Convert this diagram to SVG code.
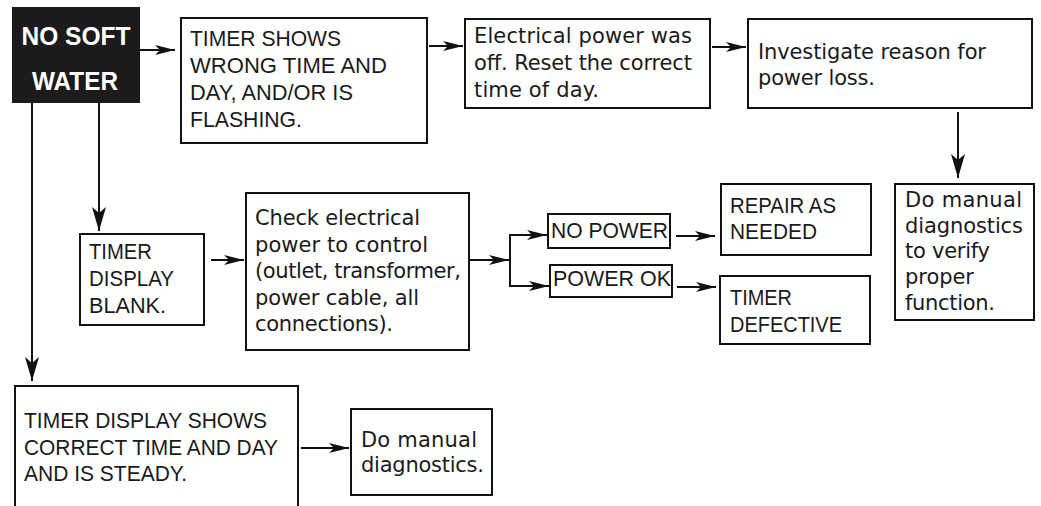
<svg xmlns="http://www.w3.org/2000/svg" width="1041" height="506" viewBox="0 0 1041 506">
<defs>
<marker id="ah" markerUnits="userSpaceOnUse" markerWidth="21" markerHeight="11" refX="20" refY="5" orient="auto" overflow="visible">
<path d="M0,0 L20,5 L0,10 L5,5 Z" fill="#111"/>
</marker>
<marker id="av" markerUnits="userSpaceOnUse" markerWidth="25" markerHeight="15" refX="24" refY="7" orient="auto" overflow="visible">
<path d="M0,0 L24,7 L0,14 L6,7 Z" fill="#111"/>
</marker>
<style>
.box{fill:#fff;stroke:#111;stroke-width:2}
.t{font-family:"Liberation Sans",Arial,sans-serif;font-size:22px;fill:#1a1a1a}
.m{font-family:"DejaVu Sans","Liberation Sans",sans-serif;font-size:21px;fill:#1a1a1a}
.w{font-family:"Liberation Sans",Arial,sans-serif;font-size:25px;font-weight:bold;fill:#fff;text-anchor:middle}
.c{fill:none;stroke:#111;stroke-width:2}
.ch{fill:none;stroke:#111;stroke-width:2;marker-end:url(#ah)}
.cv{fill:none;stroke:#111;stroke-width:2;marker-end:url(#av)}
</style>
</defs>
<rect width="1041" height="506" fill="#fff"/>

<g id="connectors">
<path class="ch" d="M140,50 H175"/>
<path class="ch" d="M429,46 H463"/>
<path class="ch" d="M712,47 H746"/>
<path class="cv" d="M958,112 V178"/>
<path class="cv" d="M99,103 V231"/>
<path class="ch" d="M211,260 H244"/>
<path class="ch" d="M470,260 H509"/>
<path class="c" d="M510,234 V287"/>
<path class="ch" d="M509,235 H547"/>
<path class="ch" d="M509,286 H549"/>
<path class="ch" d="M676,236 H715"/>
<path class="ch" d="M677,287 H716"/>
<path class="cv" d="M32,103 V381"/>
<path class="ch" d="M301,448 H349"/>
</g>

<g id="no-soft-water">
<rect x="12" y="7" width="128" height="96" fill="#1c1a1b"/>
<text class="w" x="76" y="45" textLength="109" lengthAdjust="spacingAndGlyphs">NO SOFT</text>
<text class="w" x="75" y="90" textLength="86" lengthAdjust="spacingAndGlyphs">WATER</text>
</g>

<g id="timer-wrong">
<rect class="box" x="181" y="18" width="246" height="125"/>
<text class="t" x="190" y="46" textLength="151" lengthAdjust="spacingAndGlyphs">TIMER SHOWS</text>
<text class="t" x="190" y="73" textLength="197" lengthAdjust="spacingAndGlyphs">WRONG TIME AND</text>
<text class="t" x="190" y="100" textLength="163" lengthAdjust="spacingAndGlyphs">DAY, AND/OR IS</text>
<text class="t" x="190" y="127" textLength="112" lengthAdjust="spacingAndGlyphs">FLASHING.</text>
</g>

<g id="power-off">
<rect class="box" x="465" y="19" width="245" height="89"/>
<text class="m" x="474" y="43" textLength="218" lengthAdjust="spacing">Electrical power was</text>
<text class="m" x="474" y="70" textLength="218" lengthAdjust="spacing">off. Reset the correct</text>
<text class="m" x="474" y="97" textLength="125" lengthAdjust="spacing">time of day.</text>
</g>

<g id="investigate">
<rect class="box" x="748" y="19" width="284" height="89"/>
<text class="m" x="758" y="59" textLength="228" lengthAdjust="spacing">Investigate reason for</text>
<text class="m" x="758" y="85" textLength="117" lengthAdjust="spacing">power loss.</text>
</g>

<g id="manual-verify">
<rect class="box" x="895" y="184" width="139" height="136"/>
<text class="m" x="905" y="207" textLength="117" lengthAdjust="spacing">Do manual</text>
<text class="m" x="905" y="233" textLength="118" lengthAdjust="spacing">diagnostics</text>
<text class="m" x="905" y="258" textLength="85" lengthAdjust="spacing">to verify</text>
<text class="m" x="905" y="284" textLength="69" lengthAdjust="spacing">proper</text>
<text class="m" x="905" y="310" textLength="90" lengthAdjust="spacing">function.</text>
</g>

<g id="display-blank">
<rect class="box" x="80" y="234" width="124" height="91"/>
<text class="t" x="89" y="259" textLength="63" lengthAdjust="spacingAndGlyphs">TIMER</text>
<text class="t" x="89" y="286" textLength="85" lengthAdjust="spacingAndGlyphs">DISPLAY</text>
<text class="t" x="89" y="313" textLength="77" lengthAdjust="spacingAndGlyphs">BLANK.</text>
</g>

<g id="check-power">
<rect class="box" x="246" y="193" width="223" height="157"/>
<text class="m" x="255" y="225" textLength="165" lengthAdjust="spacing">Check electrical</text>
<text class="m" x="255" y="252" textLength="173" lengthAdjust="spacing">power to control</text>
<text class="m" x="255" y="278" textLength="206" lengthAdjust="spacing">(outlet, transformer,</text>
<text class="m" x="255" y="305" textLength="164" lengthAdjust="spacing">power cable, all</text>
<text class="m" x="255" y="331" textLength="138" lengthAdjust="spacing">connections).</text>
</g>

<g id="no-power">
<rect class="box" x="548" y="214" width="122" height="34"/>
<text class="t" x="551" y="238" textLength="117" lengthAdjust="spacingAndGlyphs">NO POWER</text>
</g>

<g id="power-ok">
<rect class="box" x="550" y="265" width="122" height="32"/>
<text class="t" x="553" y="286" textLength="118" lengthAdjust="spacingAndGlyphs">POWER OK</text>
</g>

<g id="repair">
<rect class="box" x="721" y="184" width="150" height="71"/>
<text class="t" x="730" y="213" textLength="106" lengthAdjust="spacingAndGlyphs">REPAIR AS</text>
<text class="t" x="730" y="239" textLength="87" lengthAdjust="spacingAndGlyphs">NEEDED</text>
</g>

<g id="timer-defective">
<rect class="box" x="720" y="276" width="150" height="68"/>
<text class="t" x="730" y="305" textLength="62" lengthAdjust="spacingAndGlyphs">TIMER</text>
<text class="t" x="730" y="332" textLength="112" lengthAdjust="spacingAndGlyphs">DEFECTIVE</text>
</g>

<g id="display-correct">
<path class="c" d="M15,506 V386 H298 V506" fill="#fff"/>
<text class="t" x="24" y="428" textLength="243" lengthAdjust="spacingAndGlyphs">TIMER DISPLAY SHOWS</text>
<text class="t" x="24" y="455" textLength="254" lengthAdjust="spacingAndGlyphs">CORRECT TIME AND DAY</text>
<text class="t" x="24" y="481" textLength="163" lengthAdjust="spacingAndGlyphs">AND IS STEADY.</text>
</g>

<g id="manual-diagnostics">
<rect class="box" x="351" y="409" width="141" height="86"/>
<text class="m" x="361" y="447" textLength="116" lengthAdjust="spacing">Do manual</text>
<text class="m" x="361" y="472" textLength="123" lengthAdjust="spacing">diagnostics.</text>
</g>
</svg>
